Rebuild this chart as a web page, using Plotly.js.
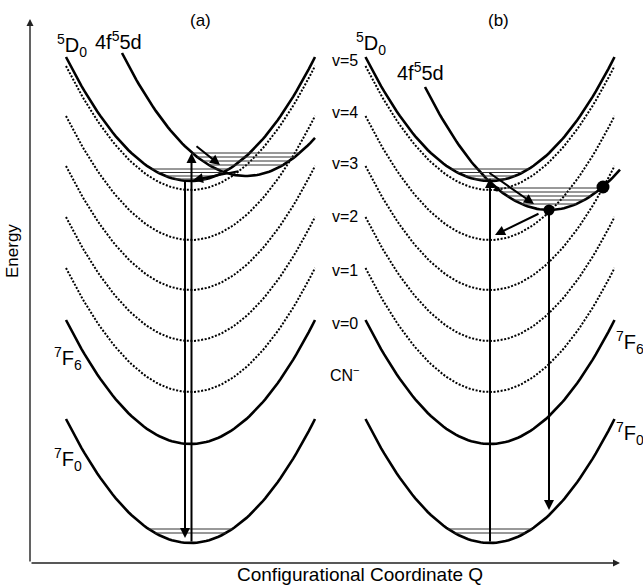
<!DOCTYPE html>
<html><head><meta charset="utf-8">
<script src="https://cdn.plot.ly/plotly-3.0.1.min.js"></script>
<style>html,body{margin:0;padding:0;background:#fff}</style>
</head><body><div id="chart" style="width:643px;height:585px"></div>
<script>
// ---- data (arbitrary units: Q = configurational coordinate, E = energy) ----
const panelLabels = ['(a)', '(b)'];
const panelCenterQ = [160.5, 460];
const curveHalfWidthQ = 124.5;
const curvature = 0.008;            // E = Emin + k (Q - Q0)^2

const groundStates = ['<sup>7</sup>F<sub>0</sub>', '<sup>7</sup>F<sub>6</sub>'];
const groundMinE = [20, 119];        // 7F0, 7F6 (= CN- v=0)
const vibLabels = ['v=0', 'v=1', 'v=2', 'v=3', 'v=4', 'v=5'];
const vibMinE = [171, 222, 273, 323, 373];   // dotted: 7F6 + v hν(CN-), v = 1..5
const d0MinE = 382;                  // 5D0

const f5dCenterQ = [216, 519];
const f5dMinE = [387, 353];
const f5dStartQ = [92, 395];
const f5dEndQ = [285, 590];

const f0Sublevels = [10, 14];
const d0Sublevels = [2, 5, 8.5, 12];
const f5dSublevels = [[11, 15, 19, 23], [6, 10, 14, 18, 22]];

// transition arrows (tail -> tip)
const arrowTailQ = [161.5, 155, 165, 210, 460, 519, 458, 510];
const arrowTailE = [20, 383, 418, 392, 20, 353, 391, 350];
const arrowTipQ  = [161.5, 155, 190, 163, 460, 519, 504, 465];
const arrowTipE  = [410, 25, 398, 383, 385, 53, 359, 328];

// crossing points (panel b)
const dotQ = [519, 573, 467];
const dotE = [353, 376, 374];
const dotSize = [11, 13, 5];

// axes arrows
const axisOriginQE = [0, 0];
const axisQEnd = 590;
const axisEEnd = 544;

// ---- build ----
function parabola(q0, emin, qa, qb) {
  const xs = [], ys = [];
  const n = 80;
  for (let i = 0; i <= n; i++) {
    const q = qa + (qb - qa) * i / n;
    xs.push(q); ys.push(emin + curvature * (q - q0) * (q - q0));
  }
  return {x: xs, y: ys};
}
const traces = [];
function addCurve(q0, emin, qa, qb, dash, width) {
  const p = parabola(q0, emin, qa, qb);
  traces.push({type: 'scatter', mode: 'lines', x: p.x, y: p.y, hoverinfo: 'skip',
    line: {color: '#000', width: width, dash: dash}, showlegend: false});
}
function addLevel(q0, emin, dE, qa, qb) {
  const dq = Math.sqrt(dE / curvature);
  const l = Math.max(q0 - dq, qa), r = Math.min(q0 + dq, qb);
  traces.push({type: 'scatter', mode: 'lines', x: [l, r], y: [emin + dE, emin + dE], hoverinfo: 'skip',
    line: {color: '#333', width: 1}, showlegend: false});
}
panelCenterQ.forEach((c, pi) => {
  const qa = c - curveHalfWidthQ, qb = c + curveHalfWidthQ;
  vibMinE.forEach(e => addCurve(c, e, qa, qb, '2px,1.6px', 2));
  groundMinE.forEach(e => addCurve(c, e, qa, qb, 'solid', 2.6));
  addCurve(c, d0MinE, qa, qb, 'solid', 2.6);
  addCurve(f5dCenterQ[pi], f5dMinE[pi], f5dStartQ[pi], f5dEndQ[pi], 'solid', 2.6);
  f0Sublevels.forEach(d => addLevel(c, groundMinE[0], d, qa, qb));
  d0Sublevels.forEach(d => addLevel(c, d0MinE, d, qa, qb));
  f5dSublevels[pi].forEach(d => addLevel(f5dCenterQ[pi], f5dMinE[pi], d, f5dStartQ[pi], f5dEndQ[pi]));
});
traces.push({type: 'scatter', mode: 'markers', x: dotQ, y: dotE, hoverinfo: 'skip', showlegend: false,
  marker: {color: '#000', size: dotSize, opacity: 1, line: {width: 0}}});

const FONT = 'Liberation Sans, Arial, Helvetica, sans-serif';
const ann = [];
function txt(q, e, t, size, extra) {
  ann.push(Object.assign({x: q, y: e, xref: 'x', yref: 'y', text: t, showarrow: false,
    font: {family: FONT, size: size, color: '#000'}}, extra || {}));
}
function arrow(q0, e0, q1, e1, w, col, head) {
  ann.push({x: q1, y: e1, ax: q0, ay: e0, xref: 'x', yref: 'y', axref: 'x', ayref: 'y',
    text: '', showarrow: true, arrowhead: head, arrowsize: 1, arrowwidth: w, arrowcolor: col, standoff: 0, startstandoff: 0});
}
for (let i = 0; i < arrowTailQ.length; i++) arrow(arrowTailQ[i], arrowTailE[i], arrowTipQ[i], arrowTipE[i], 2, '#000', 2);
arrow(axisOriginQE[0], axisOriginQE[1], axisQEnd, axisOriginQE[1], 1.4, '#222', 2);
arrow(axisOriginQE[0], axisOriginQE[1], axisOriginQE[0], axisEEnd, 1.4, '#222', 2);

txt(170, 543, panelLabels[0], 17);
txt(468, 543, panelLabels[1], 17);
txt(42, 518, '<sup>5</sup>D<sub>0</sub>', 20);
txt(88, 523, '4f<sup>5</sup>5d', 20);
txt(341, 520, '<sup>5</sup>D<sub>0</sub>', 20);
txt(390, 492, '4f<sup>5</sup>5d', 20);
const vibLabelE = [240, 293, 347, 400, 451, 503];
vibLabels.forEach((t, i) => txt(315, vibLabelE[i], t, 16));
txt(315, 189, 'CN<sup>−</sup>', 16);
txt(38, 205, groundStates[1], 20);
txt(38, 104, groundStates[0], 20);
txt(600, 221, groundStates[1], 20);
txt(600, 130, groundStates[0], 20);
txt(-18, 312, 'Energy', 17, {textangle: -90});
txt(330, -11, 'Configurational Coordinate Q', 19);

const layout = {
  width: 643, height: 585, margin: {l: 0, r: 0, t: 0, b: 0},
  paper_bgcolor: '#fff', plot_bgcolor: '#fff',
  xaxis: {range: [-30, 613], visible: false, fixedrange: true},
  yaxis: {range: [-22, 563], visible: false, fixedrange: true},
  annotations: ann, showlegend: false
};
Plotly.newPlot('chart', traces, layout, {staticPlot: true, displayModeBar: false});
</script></body></html>
